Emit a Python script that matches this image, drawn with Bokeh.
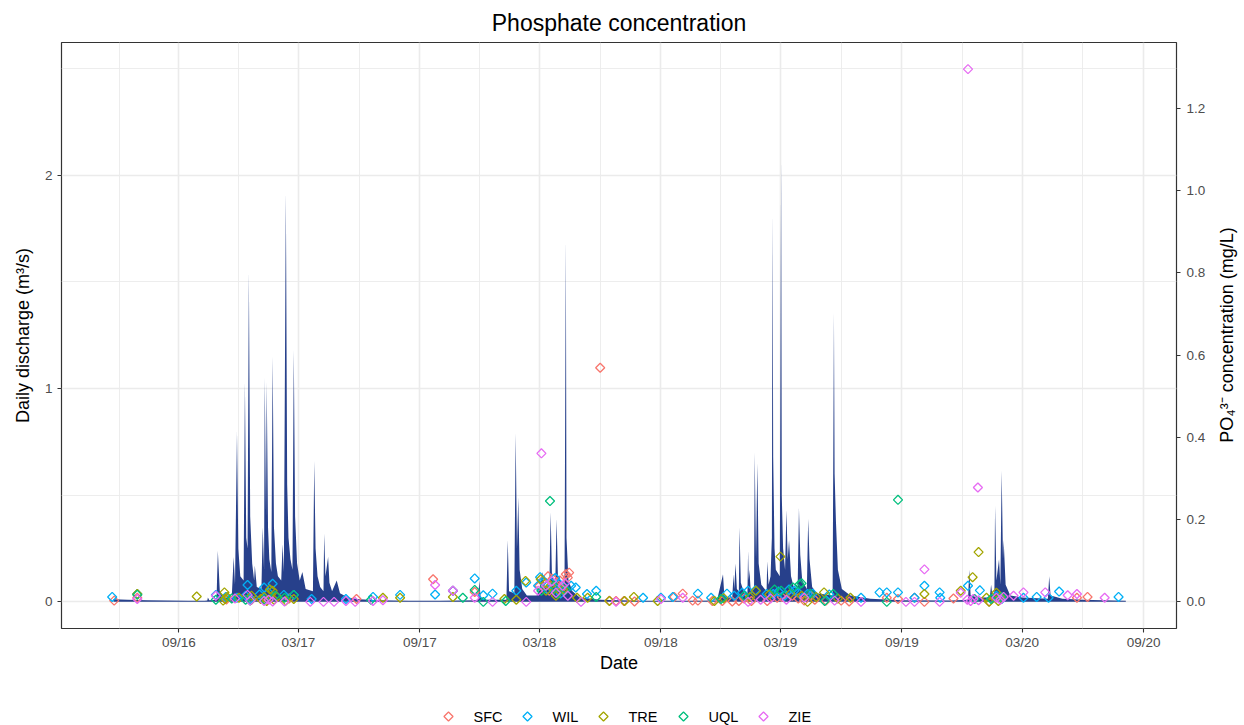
import numpy as np
import pandas as pd
from bokeh.plotting import figure
from bokeh.layouts import column, row
from bokeh.models import (Range1d, LinearAxis, FixedTicker, DatetimeTickFormatter,
                          PrintfTickFormatter)
from bokeh.core.properties import value
from bokeh.embed import file_html
from bokeh.resources import INLINE

# ---------------- data ----------------
q_dates = [
    "2016-05-25", "2016-06-15", "2016-07-15", "2016-08-15", "2016-09-15", "2016-10-10",
    "2016-10-14", "2016-10-15", "2016-10-17",
    "2016-10-28", "2016-10-30", "2016-11-02", "2016-11-08",
    "2016-11-20", "2016-11-23", "2016-11-25", "2016-11-28", "2016-11-30", "2016-12-03",
    "2016-12-08", "2016-12-10", "2016-12-12", "2016-12-14", "2016-12-16", "2016-12-18", "2016-12-21",
    "2016-12-24", "2016-12-25", "2016-12-28",
    "2017-01-04", "2017-01-06", "2017-01-08", "2017-01-09", "2017-01-11", "2017-01-12", "2017-01-14", "2017-01-16",
    "2017-01-19", "2017-01-21", "2017-01-23", "2017-01-26", "2017-01-29",
    "2017-02-03", "2017-02-05", "2017-02-07", "2017-02-10", "2017-02-12", "2017-02-14", "2017-02-17",
    "2017-02-20", "2017-02-22", "2017-02-24", "2017-02-27", "2017-03-03",
    "2017-03-07", "2017-03-12",
    "2017-03-23", "2017-03-25", "2017-03-27", "2017-03-30", "2017-04-03",
    "2017-04-08", "2017-04-09", "2017-04-11", "2017-04-15", "2017-04-17", "2017-04-21",
    "2017-04-28", "2017-05-03", "2017-05-15", "2017-06-01", "2017-07-01", "2017-08-15", "2017-10-01",
    "2017-11-28", "2017-11-30", "2017-12-02", "2017-12-10",
    "2018-01-10", "2018-01-12", "2018-01-14", "2018-01-22", "2018-01-24", "2018-01-26", "2018-01-28",
    "2018-01-30", "2018-02-03", "2018-02-10", "2018-02-25", "2018-03-01",
    "2018-03-06", "2018-03-08", "2018-03-12", "2018-03-16", "2018-03-18", "2018-03-20",
    "2018-03-25", "2018-03-27", "2018-03-29", "2018-04-05", "2018-04-08", "2018-04-10", "2018-04-11",
    "2018-04-14", "2018-04-20", "2018-05-01", "2018-06-01", "2018-08-01", "2018-10-15", "2018-11-25",
    "2018-12-04", "2018-12-06", "2018-12-12",
    "2018-12-18", "2018-12-20", "2018-12-21", "2018-12-23", "2018-12-25",
    "2018-12-28", "2018-12-29", "2018-12-31", "2019-01-05",
    "2019-01-10", "2019-01-11", "2019-01-12", "2019-01-13", "2019-01-15",
    "2019-01-20", "2019-01-21", "2019-01-23", "2019-01-25", "2019-01-27", "2019-01-31",
    "2019-02-08", "2019-02-09", "2019-02-11", "2019-02-14", "2019-02-16", "2019-02-17", "2019-02-18",
    "2019-02-20", "2019-02-22",
    "2019-02-28", "2019-03-02", "2019-03-03", "2019-03-05",
    "2019-03-08", "2019-03-10", "2019-03-12", "2019-03-14", "2019-03-17", "2019-03-21",
    "2019-03-27", "2019-03-29", "2019-03-31", "2019-04-03",
    "2019-04-10", "2019-04-12", "2019-04-14", "2019-04-18", "2019-04-25",
    "2019-05-19", "2019-05-21", "2019-05-22", "2019-05-24", "2019-05-27", "2019-06-02", "2019-06-15",
    "2019-07-15", "2019-09-01", "2019-11-15",
    "2019-12-10", "2019-12-12", "2019-12-14", "2019-12-25",
    "2020-01-12", "2020-01-14", "2020-01-16", "2020-01-19", "2020-01-20", "2020-01-22", "2020-01-26",
    "2020-01-28", "2020-01-30", "2020-02-01", "2020-02-02", "2020-02-05", "2020-02-12", "2020-03-01",
    "2020-04-09", "2020-04-11", "2020-04-13", "2020-05-01", "2020-06-01", "2020-07-01", "2020-08-05",
]
q_values = [
    0.012, 0.010, 0.008, 0.006, 0.005, 0.005,
    0.006, 0.020, 0.008,
    0.010, 0.240, 0.050, 0.020,
    0.020, 0.210, 0.080, 0.800, 0.250, 0.120,
    0.100, 1.030, 0.300, 0.250, 1.550, 0.400, 0.180,
    0.100, 0.170, 0.070,
    0.060, 0.350, 0.150, 1.050, 0.400, 1.030, 0.350, 0.200,
    0.140, 1.150, 0.350, 0.180, 0.120,
    0.100, 0.270, 0.140, 1.920, 0.550, 0.300, 0.200,
    0.150, 1.180, 0.400, 0.180, 0.100,
    0.140, 0.060,
    0.050, 0.660, 0.250, 0.120, 0.070,
    0.050, 0.320, 0.120, 0.210, 0.090, 0.050,
    0.100, 0.040, 0.020, 0.012, 0.008, 0.005, 0.005,
    0.008, 0.100, 0.020, 0.010,
    0.010, 0.290, 0.050, 0.040, 0.790, 0.250, 0.490,
    0.150, 0.060, 0.030, 0.030, 0.060,
    0.140, 0.080, 0.070, 0.080, 0.420, 0.120,
    0.090, 0.390, 0.120, 0.080, 0.090, 1.700, 0.300,
    0.100, 0.050, 0.020, 0.010, 0.005, 0.005, 0.006,
    0.130, 0.030, 0.020,
    0.020, 0.130, 0.060, 0.180, 0.060,
    0.050, 0.350, 0.090, 0.040,
    0.040, 0.240, 0.100, 0.150, 0.050,
    0.060, 0.700, 0.200, 0.650, 0.180, 0.080,
    0.050, 0.190, 0.080, 0.120, 0.300, 1.830, 0.680,
    0.250, 0.150,
    0.120, 2.080, 0.500, 0.250,
    0.150, 0.430, 0.200, 0.290, 0.120, 0.070,
    0.060, 0.440, 0.220, 0.100,
    0.060, 0.390, 0.200, 0.070, 0.040,
    0.030, 1.355, 0.600, 0.380, 0.150, 0.060, 0.030,
    0.015, 0.008, 0.006,
    0.010, 0.150, 0.030, 0.020,
    0.020, 0.080, 0.030, 0.050, 0.450, 0.100, 0.200,
    0.080, 0.615, 0.200, 0.290, 0.080, 0.030, 0.020,
    0.015, 0.120, 0.030, 0.015, 0.010, 0.007, 0.005,
]

site_names = ["SFC", "WIL", "TRE", "UQL", "ZIE"]
site_colors = ["#F8766D", "#00B0F6", "#A3A500", "#00BF7D", "#E76BF3"]

sfc_dates = ["2016-05-26", "2016-06-30", "2016-11-12", "2016-12-20", "2017-02-15", "2017-05-28",
             "2017-09-21", "2017-10-21", "2017-11-23", "2018-03-01", "2018-03-05", "2018-03-11",
             "2018-03-14", "2018-03-16", "2018-03-21", "2018-03-24", "2018-03-27", "2018-04-01",
             "2018-04-03", "2018-04-10", "2018-04-13", "2018-04-15",
             "2018-06-01", "2018-06-15", "2018-06-25", "2018-07-07", "2018-07-23", "2018-09-21",
             "2018-10-04", "2018-10-19", "2018-10-27", "2018-11-18", "2018-12-03", "2018-12-18",
             "2018-12-28", "2019-01-05", "2019-01-16", "2019-02-09", "2019-02-24", "2019-03-03",
             "2019-03-19", "2019-03-28", "2019-04-06", "2019-04-16", "2019-04-22", "2019-05-09",
             "2019-06-01", "2019-06-13", "2019-08-09", "2019-08-26",
             "2019-09-20", "2019-10-05", "2019-11-18", "2020-01-11", "2020-05-23", "2020-06-08"]
sfc_conc = [0.003, 0.010, 0.006, 0.005, 0.008, 0.007,
            0.055, 0.027, 0.024, 0.039, 0.050, 0.046,
            0.062, 0.027, 0.056, 0.035, 0.044, 0.052,
            0.032, 0.067, 0.059, 0.071,
            0.569, 0.003, 0.002, 0.002, 0.001, 0.012,
            0.020, 0.003, 0.003, 0.002, 0.002, 0.001,
            0.002, 0.008, 0.002, 0.002, 0.010, 0.012,
            0.015, 0.008, 0.003, 0.015, 0.005, 0.003,
            0.003, 0.001, 0.010, 0.007,
            0.010, 0.000, 0.008, 0.001, 0.010, 0.012]

wil_dates = ["2016-05-23", "2016-06-30", "2016-10-27", "2016-11-11", "2016-11-28", "2016-12-11",
             "2016-12-14", "2016-12-18", "2017-01-01", "2017-01-08", "2017-01-15", "2017-01-21",
             "2017-02-07", "2017-02-22",
             "2017-03-21", "2017-05-12", "2017-06-22", "2017-08-02", "2017-09-24", "2017-10-21",
             "2017-11-23", "2017-12-06", "2017-12-20", "2018-01-25", "2018-02-09", "2018-02-27",
             "2018-03-02", "2018-03-07", "2018-03-13", "2018-03-19", "2018-03-25", "2018-03-31",
             "2018-04-02", "2018-04-07", "2018-04-18", "2018-04-25",
             "2018-05-12", "2018-05-26", "2018-08-05", "2018-09-01", "2018-09-19", "2018-10-27",
             "2018-11-16", "2018-12-10", "2018-12-21", "2019-01-02", "2019-01-11", "2019-01-22",
             "2019-02-08", "2019-02-18", "2019-02-26", "2019-03-07", "2019-03-14",
             "2019-03-22", "2019-03-28", "2019-04-11", "2019-04-19", "2019-05-14", "2019-07-01",
             "2019-07-29", "2019-08-09",
             "2019-08-26", "2019-09-20", "2019-10-05", "2019-10-28", "2019-10-29", "2019-12-10",
             "2019-12-28", "2020-01-22", "2020-01-30", "2020-03-03", "2020-03-23", "2020-04-10",
             "2020-04-26", "2020-07-25"]
wil_conc = [0.012, 0.019, 0.017, 0.012, 0.010, 0.015,
            0.041, 0.007, 0.018, 0.035, 0.022, 0.044,
            0.017, 0.017,
            0.007, 0.007, 0.012, 0.017, 0.018, 0.027,
            0.057, 0.016, 0.020, 0.027, 0.047, 0.039,
            0.060, 0.051, 0.030, 0.034, 0.058, 0.044,
            0.020, 0.027, 0.039, 0.035,
            0.019, 0.027, 0.010, 0.010, 0.012, 0.020,
            0.010, 0.020, 0.015, 0.022, 0.027, 0.028,
            0.019, 0.019, 0.025, 0.015, 0.030,
            0.027, 0.022, 0.019, 0.020, 0.018, 0.010,
            0.023, 0.023,
            0.023, 0.010, 0.039, 0.023, 0.010, 0.039,
            0.028, 0.015, 0.007, 0.010, 0.012, 0.010,
            0.025, 0.012]

tre_dates = ["2016-06-30", "2016-09-28", "2016-11-07", "2016-11-09", "2016-11-10", "2016-11-13",
             "2016-12-01", "2016-12-20", "2017-01-03", "2017-01-08", "2017-01-12", "2017-01-17",
             "2017-01-21", "2017-01-23", "2017-01-28",
             "2017-02-10", "2017-02-22", "2017-07-07", "2017-08-02", "2017-10-21", "2018-01-07",
             "2018-01-25", "2018-02-08", "2018-03-03", "2018-03-11", "2018-03-18", "2018-03-26",
             "2018-04-06", "2018-04-27",
             "2018-05-13", "2018-06-15", "2018-07-08", "2018-07-22", "2018-08-27", "2018-11-21",
             "2018-12-05", "2019-01-14", "2019-01-23", "2019-02-12", "2019-03-01", "2019-03-16",
             "2019-04-02", "2019-04-11", "2019-04-24", "2019-05-06", "2019-05-27",
             "2019-06-15", "2019-10-05", "2019-11-29", "2019-12-17", "2019-12-26", "2020-01-07",
             "2020-01-11", "2020-01-22", "2020-01-25", "2020-01-28"]
tre_conc = [0.019, 0.013, 0.003, 0.023, 0.007, 0.012,
            0.010, 0.015, 0.007, 0.012, 0.002, 0.030,
            0.027, 0.005, 0.012,
            0.003, 0.007, 0.010, 0.010, 0.012, 0.007,
            0.005, 0.051, 0.055, 0.027, 0.040, 0.015,
            0.030, 0.010,
            0.010, 0.002, 0.002, 0.012, 0.002, 0.002,
            0.009, 0.012, 0.027, 0.018, 0.110, 0.020,
            0.015, 0.000, 0.012, 0.023, 0.008,
            0.010, 0.019, 0.027, 0.060, 0.121, 0.010,
            0.000, 0.022, 0.002, 0.012]

uql_dates = ["2016-06-30", "2016-10-27", "2016-11-20", "2016-12-11", "2016-12-18", "2017-01-08",
             "2017-01-25", "2017-02-08",
             "2017-02-22", "2017-06-19", "2017-11-05", "2017-11-23", "2017-12-06", "2018-01-09",
             "2018-03-04", "2018-03-17", "2018-03-23", "2018-03-28", "2018-04-10", "2018-05-26",
             "2018-12-01", "2019-01-05", "2019-02-20", "2019-03-02", "2019-03-20",
             "2019-03-30", "2019-04-02", "2019-04-15", "2019-05-07", "2019-05-20", "2019-08-09",
             "2019-08-26", "2019-12-20", "2020-01-14", "2020-01-30"]
uql_conc = [0.017, 0.005, 0.008, 0.005, 0.003, 0.005,
            0.015, 0.010,
            0.017, 0.005, 0.010, 0.029, 0.000, 0.002,
            0.027, 0.245, 0.039, 0.020, 0.030, 0.012,
            0.007, 0.015, 0.030, 0.027, 0.035,
            0.043, 0.045, 0.020, 0.002, 0.019, 0.000,
            0.248, 0.007, 0.007, 0.012]

zie_dates = ["2016-06-30", "2016-10-27", "2016-11-25", "2016-12-14", "2016-12-18", "2017-01-08",
             "2017-01-15", "2017-01-21",
             "2017-02-08", "2017-03-19", "2017-04-08", "2017-04-24", "2017-05-12", "2017-05-26",
             "2017-06-22", "2017-07-07", "2017-09-24", "2017-10-21", "2017-11-23", "2017-12-20",
             "2018-02-09", "2018-02-27", "2018-03-04", "2018-03-11", "2018-03-20", "2018-03-26",
             "2018-04-05", "2018-04-09",
             "2018-04-13", "2018-05-03", "2018-06-25", "2018-09-01", "2018-10-04", "2019-01-11",
             "2019-01-30", "2019-02-14", "2019-03-10", "2019-04-06",
             "2019-05-22", "2019-07-01", "2019-09-07", "2019-09-20", "2019-10-05", "2019-10-28",
             "2019-11-29", "2019-12-09", "2019-12-10", "2019-12-14", "2019-12-18", "2019-12-25",
             "2019-12-26", "2020-01-22", "2020-01-28", "2020-02-02", "2020-02-17", "2020-03-03",
             "2020-04-05", "2020-05-09", "2020-05-23", "2020-07-04"]
zie_conc = [0.007, 0.015, 0.008, 0.017, 0.003, 0.002,
            0.005, 0.001,
            0.001, 0.000, 0.000, 0.000, 0.002, 0.000,
            0.002, 0.004, 0.041, 0.027, 0.010, 0.000,
            0.000, 0.027, 0.361, 0.039, 0.050, 0.022,
            0.039, 0.045,
            0.015, 0.000, 0.000, 0.007, 0.010, 0.000,
            0.005, 0.008, 0.005, 0.010,
            0.003, 0.000, 0.000, 0.000, 0.079, 0.000,
            0.022, 0.005, 1.295, 0.002, 0.007, 0.278,
            0.004, 0.010, 0.005, 0.012, 0.015, 0.023,
            0.023, 0.016, 0.019, 0.010]

x_major = ["2016-09-01", "2017-03-01", "2017-09-01", "2018-03-01", "2018-09-01",
           "2019-03-01", "2019-09-01", "2020-03-01", "2020-09-01"]
y_left_ticks = [0, 1, 2]
y_right_ticks = [0.0, 0.2, 0.4, 0.6, 0.8, 1.0, 1.2]
SCALE = 1.928   # discharge units per mg/L (secondary axis factor)

# ---------------- derived ----------------
def ms(s):
    return (pd.to_datetime(s) - pd.Timestamp("1970-01-01")) / pd.Timedelta(milliseconds=1)

site_dates = [sfc_dates, wil_dates, tre_dates, uql_dates, zie_dates]
site_conc = [sfc_conc, wil_conc, tre_conc, uql_conc, zie_conc]

all_x = [ms(d) for d in q_dates] + [ms(d) for ds in site_dates for d in ds]
xmin, xmax = min(all_x), max(all_x)
xpad = 0.05 * (xmax - xmin)
ymin = min(0.0, min(q_values))
ymax = max(max(q_values), max(max(c) for c in site_conc) * SCALE)
ypad = 0.05 * (ymax - ymin)

major_ms = [ms(d) for d in x_major]
minor_ms = [major_ms[0] - (major_ms[1] - major_ms[0]) / 2] + \
           [(a + b) / 2 for a, b in zip(major_ms[:-1], major_ms[1:])]

FONT = "Liberation Sans"
W_MAIN, W_LAB, H_MAIN, H_LEG = 1212, 32, 703, 22
FL, FT, FW, FH = 61, 41, 1115, 587
MARK = dict(marker="square", angle=np.pi / 4, size=6.4, fill_color=None, line_width=1.3)

p = figure(width=W_MAIN, height=H_MAIN, x_axis_type="datetime",
           x_range=Range1d(xmin - xpad, xmax + xpad),
           y_range=Range1d(ymin - ypad, ymax + ypad),
           output_backend="svg", toolbar_location=None,
           min_border_left=FL, min_border_right=W_MAIN - FL - FW, min_border_top=FT,
           min_border_bottom=H_MAIN - FT - FH,
           title="Phosphate concentration")
p.extra_y_ranges = {"conc": Range1d((ymin - ypad) / SCALE, (ymax + ypad) / SCALE)}

p.title.align = "center"
p.title.text_font = FONT
p.title.text_font_size = "23px"
p.title.text_font_style = "normal"
p.title.text_color = "black"
p.title.standoff = 14

p.background_fill_color = "white"
p.border_fill_color = "white"
p.outline_line_color = "#333333"
p.outline_line_width = 1.2

# discharge
p.varea(x=[ms(d) for d in q_dates], y1=0, y2=q_values, fill_color="#27408B")

# points
for name, ds, cs, col in zip(site_names, site_dates, site_conc, site_colors):
    p.scatter(x=[ms(d) for d in ds], y=cs, y_range_name="conc", line_color=col, **MARK)

# x axis
xt = FixedTicker(ticks=major_ms, minor_ticks=minor_ms)
xax = p.xaxis[0]
xax.ticker = xt
p.xgrid[0].ticker = xt
fmt = "%m/%y"
xax.formatter = DatetimeTickFormatter(days=fmt, months=fmt, years=fmt, hours=fmt,
                                      hourmin=fmt, minutes=fmt, minsec=fmt, seconds=fmt,
                                      milliseconds=fmt, microseconds=fmt)
xax.axis_label = "Date"

# left axis
yt = FixedTicker(ticks=y_left_ticks, minor_ticks=[0.5, 1.5, 2.5])
yax = p.yaxis[0]
yax.ticker = yt
p.ygrid[0].ticker = yt
yax.axis_label = "Daily discharge (m³/s)"

# right axis (its title is drawn in a narrow strip to the right)
rax = LinearAxis(y_range_name="conc", ticker=FixedTicker(ticks=y_right_ticks),
                 formatter=PrintfTickFormatter(format="%.1f"))
p.add_layout(rax, "right")

for ax in [xax, yax, rax]:
    ax.axis_line_color = None
    ax.major_tick_line_color = "#333333"
    ax.major_tick_line_width = 1.1
    ax.major_tick_out = 4
    ax.major_tick_in = 0
    ax.minor_tick_line_color = None
    ax.major_label_text_font = FONT
    ax.major_label_text_font_size = "13.5px"
    ax.major_label_text_color = "#4D4D4D"
    ax.axis_label_text_font = FONT
    ax.axis_label_text_font_size = "18px"
    ax.axis_label_text_font_style = "normal"
    ax.axis_label_text_color = "black"

xax.major_label_standoff = 2
xax.axis_label_standoff = 0
yax.major_label_standoff = 5
yax.axis_label_standoff = 9
rax.major_label_standoff = 6

for g in [p.xgrid[0], p.ygrid[0]]:
    g.grid_line_color = "#EBEBEB"
    g.grid_line_width = 1.6
    g.minor_grid_line_color = "#EBEBEB"
    g.minor_grid_line_width = 0.9

def strip(w, h, xr):
    f = figure(width=w, height=h, x_range=xr, y_range=Range1d(0, h),
               output_backend="svg", toolbar_location=None,
               x_axis_location=None, y_axis_location=None, min_border=0)
    f.grid.visible = False
    f.outline_line_color = None
    f.background_fill_color = "white"
    f.border_fill_color = "white"
    return f

# right-axis title strip
pr = strip(W_LAB, H_MAIN, Range1d(0, W_LAB))
pr.text(x=[14], y=[H_MAIN - (FT + FH / 2)], text=["PO₄³⁻ concentration (mg/L)"],
        angle=np.pi / 2, text_align="center", text_baseline="middle",
        text_font=value(FONT), text_font_size="18px", text_color="black")

# legend strip below the plot (its frame is aligned with the main frame, so
# the x range spans the frame's pixel columns)
pl = strip(W_MAIN, H_LEG, Range1d(FL, FL + FW))
key_x = [448, 527, 603, 683, 763]
key_y = [9] * len(key_x)
pl.scatter(x=key_x, y=key_y, line_color=site_colors, **MARK)
pl.text(x=[k + 25 for k in key_x], y=key_y, text=site_names,
        text_align="left", text_baseline="middle",
        text_font=value(FONT), text_font_size="14.5px", text_color="black")

layout = row(column(p, pl, spacing=0), pr, spacing=0)
open("out.html", "w").write(file_html(layout, INLINE, title="Phosphate concentration"))
